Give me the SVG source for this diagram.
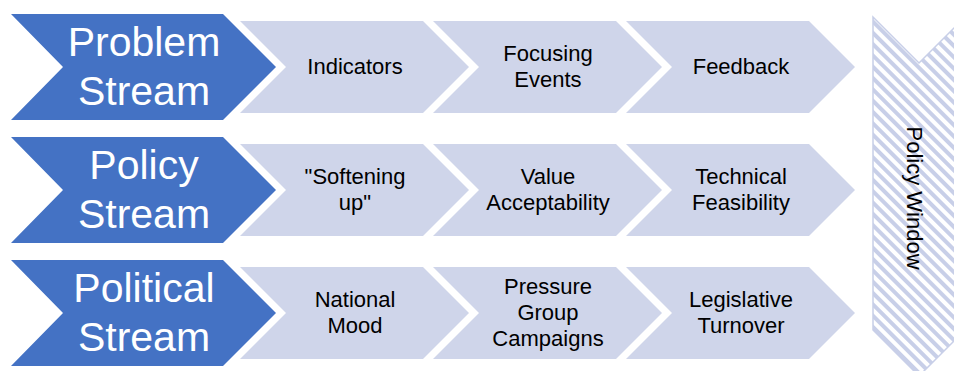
<svg xmlns="http://www.w3.org/2000/svg" width="954" height="371" viewBox="0 0 954 371">
<defs>
<style>
.main{fill:#4472C4;}
.step{fill:#CFD5EA;}
.mt{font-family:"Liberation Sans",Arial,sans-serif;font-size:41px;fill:#FFFFFF;text-anchor:middle;}
.st{font-family:"Liberation Sans",Arial,sans-serif;font-size:22px;fill:#000000;text-anchor:middle;}
.win{fill:url(#hatch);stroke:#C8CFE8;stroke-width:1.5;}
</style>
<pattern id="hatch" patternUnits="userSpaceOnUse" width="8" height="8" patternTransform="rotate(-45)">
<rect width="8" height="8" fill="#FFFFFF"/>
<rect width="4" height="8" fill="#C8CFE8"/>
</pattern>
</defs>

<g id="policy-window">
<polygon class="win" points="873,17 919,63 965,17 965,330 919,376 873,330"/>
<text class="st" transform="translate(907,198) rotate(90)" x="0" y="0">Policy Window</text>
</g>

<g id="problem-stream">
<polygon class="main" points="11,14 223,14 276,67 223,120 11,120 63,67"/>
<text class="mt" x="144" y="56">Problem</text>
<text class="mt" x="144" y="105">Stream</text>
</g>
<g id="indicators">
<polygon class="step" points="240,21 423,21 469,67 423,113 240,113 286,67"/>
<text class="st" x="355" y="74">Indicators</text>
</g>
<g id="focusing-events">
<polygon class="step" points="433,21 616,21 662,67 616,113 433,113 479,67"/>
<text class="st" x="548" y="61">Focusing</text>
<text class="st" x="548" y="87">Events</text>
</g>
<g id="feedback">
<polygon class="step" points="626,21 809,21 855,67 809,113 626,113 672,67"/>
<text class="st" x="741" y="74">Feedback</text>
</g>

<g id="policy-stream">
<polygon class="main" points="11,137 223,137 276,190 223,243 11,243 63,190"/>
<text class="mt" x="144" y="179">Policy</text>
<text class="mt" x="144" y="228">Stream</text>
</g>
<g id="softening-up">
<polygon class="step" points="240,144 423,144 469,190 423,236 240,236 286,190"/>
<text class="st" x="355" y="184">"Softening</text>
<text class="st" x="355" y="210">up"</text>
</g>
<g id="value-acceptability">
<polygon class="step" points="433,144 616,144 662,190 616,236 433,236 479,190"/>
<text class="st" x="548" y="184">Value</text>
<text class="st" x="548" y="210">Acceptability</text>
</g>
<g id="technical-feasibility">
<polygon class="step" points="626,144 809,144 855,190 809,236 626,236 672,190"/>
<text class="st" x="741" y="184">Technical</text>
<text class="st" x="741" y="210">Feasibility</text>
</g>

<g id="political-stream">
<polygon class="main" points="11,260 223,260 276,313 223,366 11,366 63,313"/>
<text class="mt" x="144" y="302">Political</text>
<text class="mt" x="144" y="351">Stream</text>
</g>
<g id="national-mood">
<polygon class="step" points="240,267 423,267 469,313 423,359 240,359 286,313"/>
<text class="st" x="355" y="307">National</text>
<text class="st" x="355" y="333">Mood</text>
</g>
<g id="pressure-group-campaigns">
<polygon class="step" points="433,267 616,267 662,313 616,359 433,359 479,313"/>
<text class="st" x="548" y="294">Pressure</text>
<text class="st" x="548" y="320">Group</text>
<text class="st" x="548" y="346">Campaigns</text>
</g>
<g id="legislative-turnover">
<polygon class="step" points="626,267 809,267 855,313 809,359 626,359 672,313"/>
<text class="st" x="741" y="307">Legislative</text>
<text class="st" x="741" y="333">Turnover</text>
</g>

<g id="connectors"></g>
</svg>
